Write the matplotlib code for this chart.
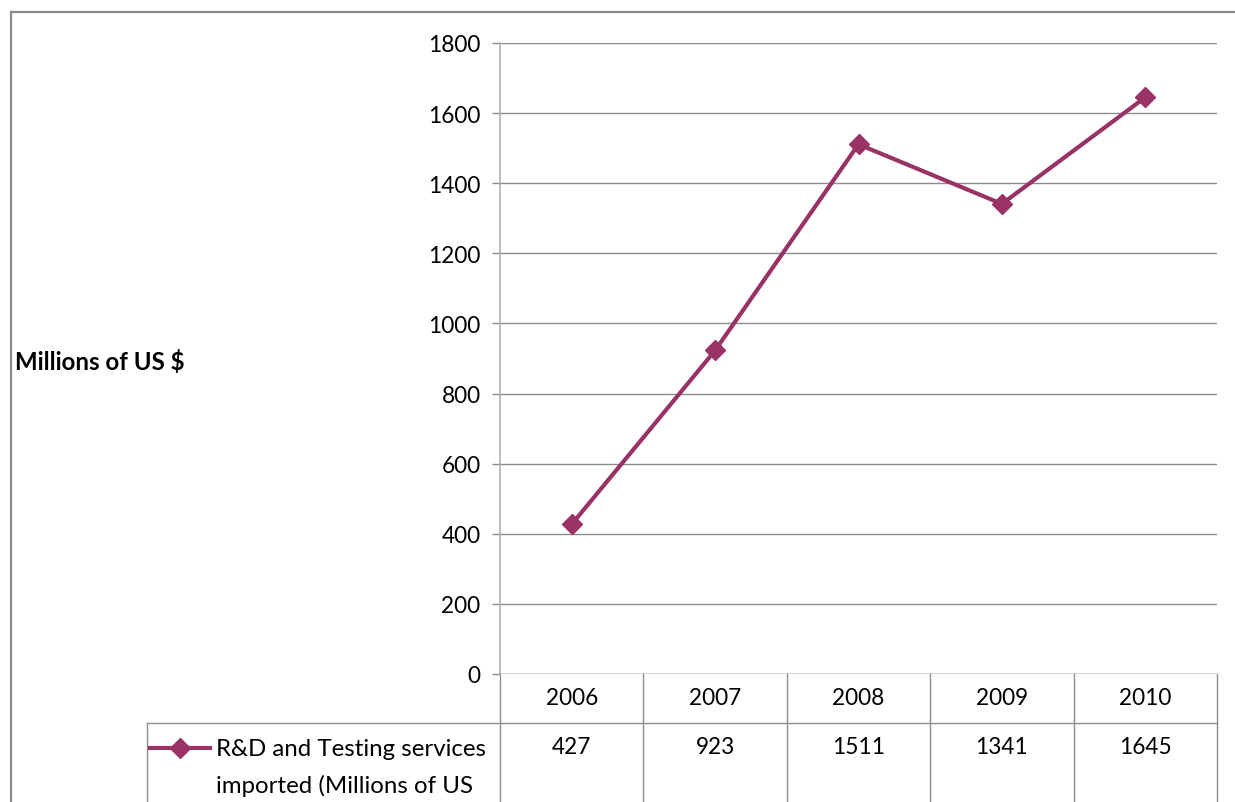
import matplotlib.pyplot as plt
import matplotlib.transforms as mtransforms
from matplotlib.lines import Line2D

# R&D and Testing services imported, millions of US $
years = ["2006", "2007", "2008", "2009", "2010"]
imports = [427, 923, 1511, 1341, 1645]
label_lines = ["R&D and Testing services", "imported (Millions of US"]
y_ticks = [0, 200, 400, 600, 800, 1000, 1200, 1400, 1600, 1800]

W, H = 1235, 803
LINE_COLOR = "#993366"
GRID_COLOR = "#8c8c8c"
NUM_SIZE = 16.3
TEXT_SIZE = 17.3

plt.rcParams["font.family"] = ["Lato", "DejaVu Sans"]

fig = plt.figure(figsize=(W / 100, H / 100), dpi=100)


def fx(px):
    return px / W


def fy(py):
    return 1 - py / H


# plot area in pixel terms: left 500, right 1217, top 44, bottom 675
ax = fig.add_axes([fx(500), fy(675), fx(1217 - 500), (675 - 44) / H])
x = list(range(len(years)))
ax.plot(x, imports, color=LINE_COLOR, linewidth=3.0, marker="D", markersize=10.5,
        markerfacecolor=LINE_COLOR, markeredgecolor=LINE_COLOR, zorder=3)

ax.set_xlim(-0.5, len(years) - 0.5)
ax.set_ylim(0, 1800)
ax.set_yticks(y_ticks)
ax.set_yticklabels([str(t) for t in y_ticks], fontsize=NUM_SIZE)
ax.set_xticks([])
ax.yaxis.grid(True, color=GRID_COLOR, linewidth=1)
ax.set_axisbelow(True)
for side in ("top", "right", "bottom"):
    ax.spines[side].set_visible(False)
ax.spines["left"].set_color("#b0b0b0")
ax.spines["left"].set_linewidth(1.2)
ax.tick_params(axis="y", length=6, width=1, color=GRID_COLOR, pad=8)

# bottom grid line doubles as the top edge of the data table
ax.axhline(0, color=GRID_COLOR, linewidth=1, zorder=2)

# data table below the plot: x in data units, y in axes fraction
trans = mtransforms.blended_transform_factory(ax.transData, ax.transAxes)
plot_h = 675 - 44


def ay(py):
    return (675 - py) / plot_h


row_line = ay(724)
bottom = ay(H + 2)
for edge in range(len(years) + 1):
    ax.add_line(Line2D([edge - 0.5, edge - 0.5], [0, bottom], transform=trans,
                       color=GRID_COLOR, linewidth=1, clip_on=False))

left_axes = (147 - 500) / (1217 - 500)
ax.add_line(Line2D([left_axes, 1], [row_line, row_line], transform=ax.transAxes,
                   color=GRID_COLOR, linewidth=1, clip_on=False))
ax.add_line(Line2D([left_axes, left_axes], [row_line, bottom], transform=ax.transAxes,
                   color=GRID_COLOR, linewidth=1, clip_on=False))

for i, (yr, val) in enumerate(zip(years, imports)):
    ax.text(i, ay(699), yr, transform=trans, ha="center", va="center",
            fontsize=NUM_SIZE, clip_on=False)
    ax.text(i, ay(748), str(val), transform=trans, ha="center", va="center",
            fontsize=NUM_SIZE, clip_on=False)

# legend key inside the table's label cell
fig.add_artist(Line2D([fx(150), fx(210)], [fy(749), fy(749)], color=LINE_COLOR,
                      linewidth=3.0))
fig.add_artist(Line2D([fx(180)], [fy(749)], color=LINE_COLOR, marker="D",
                      markersize=10.5, linestyle="none"))
for k, line in enumerate(label_lines):
    fig.text(fx(216), fy(750 + 36 * k), line, ha="left", va="center",
             fontsize=TEXT_SIZE)

fig.text(fx(15), fy(362), "Millions of US $", ha="left", va="center",
         fontsize=TEXT_SIZE, fontweight="bold")

# chart frame: top and left edges
fig.add_artist(Line2D([fx(11), 1], [fy(13), fy(13)], color=GRID_COLOR, linewidth=1.6))
fig.add_artist(Line2D([fx(11), fx(11)], [fy(13), 0], color=GRID_COLOR, linewidth=1.6))

fig.savefig("out.png", dpi=100, facecolor="white")
